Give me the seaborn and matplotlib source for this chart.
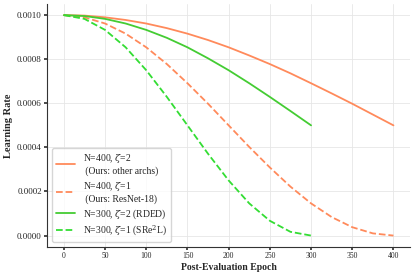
import numpy as np
import pandas as pd
import seaborn as sns
import matplotlib.pyplot as plt

# values, every 25 epochs
ep400 = [0, 25, 50, 75, 100, 125, 150, 175, 200, 225, 250, 275, 300, 325, 350, 375, 400]
ep300 = [0, 25, 50, 75, 100, 125, 150, 175, 200, 225, 250, 275, 300]

lr_400_z2 = [0.001000, 0.000998, 0.000990, 0.000978, 0.000962, 0.000941, 0.000916, 0.000887,
             0.000854, 0.000817, 0.000778, 0.000736, 0.000691, 0.000645, 0.000598, 0.000549, 0.000500]
lr_400_z1 = [0.001000, 0.000990, 0.000962, 0.000916, 0.000854, 0.000778, 0.000691, 0.000598,
             0.000500, 0.000402, 0.000309, 0.000222, 0.000146, 0.000084, 0.000038, 0.000010, 0.000000]
lr_300_z2 = [0.001000, 0.000996, 0.000983, 0.000962, 0.000933, 0.000897, 0.000854, 0.000804,
             0.000750, 0.000691, 0.000629, 0.000565, 0.000500]
lr_300_z1 = [0.001000, 0.000983, 0.000933, 0.000854, 0.000750, 0.000629, 0.000500, 0.000371,
             0.000250, 0.000146, 0.000067, 0.000017, 0.000000]

labels = ['N=400, $\\zeta$=2\n (Ours: other archs)',
          'N=400, $\\zeta$=1\n (Ours: ResNet-18)',
          'N=300, $\\zeta$=2 (RDED)',
          'N=300, $\\zeta$=1 (SRe$^2$L)']
colors = ['#FF8A5B', '#FF8A5B', '#44CC33', '#33DD33']
styles = ['-', '--', '-', '--']

sns.set_theme(style='whitegrid')
plt.rcParams['font.family'] = ['Liberation Serif', 'DejaVu Serif']
plt.rcParams['mathtext.fontset'] = 'dejavuserif'
plt.rcParams['grid.color'] = '#E6E6E6'
plt.rcParams['grid.linewidth'] = 0.6

fig, ax = plt.subplots(figsize=(4.12, 2.74), dpi=100)
series = [(ep400, lr_400_z2), (ep400, lr_400_z1), (ep300, lr_300_z2), (ep300, lr_300_z1)]
for (x, y), lab, c, ls in zip(series, labels, colors, styles):
    sns.lineplot(x=x, y=y, ax=ax, color=c, linestyle=ls, linewidth=1.3, label=lab)

ax.set_xticks([0, 50, 100, 150, 200, 250, 300, 350, 400])
ax.set_yticks([0.0, 0.0002, 0.0004, 0.0006, 0.0008, 0.0010])
ax.set_yticklabels(['0.0000', '0.0002', '0.0004', '0.0006', '0.0008', '0.0010'])
ax.tick_params(axis='x', labelsize=5.5, pad=2)
ax.tick_params(axis='y', labelsize=6.5, pad=2)
ax.set_xlabel('Post-Evaluation Epoch', fontsize=7, fontweight='bold', labelpad=2)
ax.set_ylabel('Learning Rate', fontsize=7.5, fontweight='bold', labelpad=3)
sns.despine(ax=ax)
for s in ['left', 'bottom']:
    ax.spines[s].set_color('#333333')
    ax.spines[s].set_linewidth(0.8)
ax.tick_params(axis='both', length=2, color='#333333', left=True, bottom=True)

leg = ax.legend(loc='lower left', fontsize=6.9, frameon=True, handlelength=2.0,
                labelspacing=0.35, borderpad=0.4, handletextpad=0.8,
                bbox_to_anchor=(0.0, 0.0))
leg.get_frame().set_edgecolor('#CCCCCC')

fig.subplots_adjust(left=0.115, right=0.995, top=0.985, bottom=0.1)
fig.savefig('out.png', dpi=100)
